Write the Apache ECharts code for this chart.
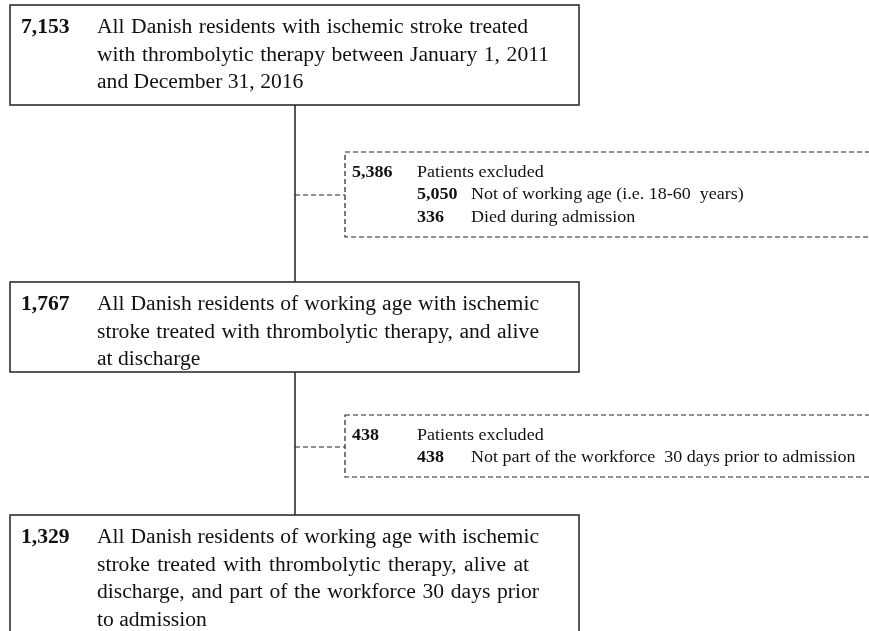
<!DOCTYPE html>
<html>
<head>
<meta charset="utf-8">
<script src="https://cdn.jsdelivr.net/npm/echarts@6/dist/echarts.min.js"></script>
<style>html,body{margin:0;padding:0;background:#fff;}#c{width:869px;height:631px;}</style>
</head>
<body>
<div id="c"></div>
<script>
// Data
const mainCounts = ['7,153', '1,767', '1,329'];
const mainTexts = [
  ['All Danish residents with ischemic stroke treated', 'with thrombolytic therapy between January 1, 2011', 'and December 31, 2016'],
  ['All Danish residents of working age with ischemic', 'stroke treated with thrombolytic therapy, and alive', 'at discharge'],
  ['All Danish residents of working age with ischemic', 'stroke treated with thrombolytic therapy, alive at', 'discharge, and part of the workforce 30 days prior', 'to admission']
];
const excludedTotals = ['5,386', '438'];
const excludedHeader = 'Patients excluded';
const excludedCounts = [['5,050', '336'], ['438']];
const excludedReasons = [['Not of working age (i.e. 18-60  years)', 'Died during admission'], ['Not part of the workforce  30 days prior to admission']];

// Layout
const boxL = 10, boxR = 579, stemX = 295;
const boxes = [{top: 5, bottom: 105}, {top: 282, bottom: 372}, {top: 515, bottom: 660}];
const lineEnds = [[528, 549, null], [539, 539, null], [539, 529, 539, null]];
const dboxes = [{top: 152, bottom: 237, mid: 195}, {top: 415, bottom: 477, mid: 447}];
const dL = 345, dR = 900;
const serif = '"Liberation Serif", "Times New Roman", serif';
const mainLine = 27.5, mainFS = 20, mainSX = 1.08;
const exLine = 22.5, exFS = 17.5, exSX = 1.03;
const textX = 97, numX = 21;

const ctx = document.createElement('canvas').getContext('2d');
function measure(t, font) { ctx.font = font; return ctx.measureText(t).width; }

const els = [];
const stroke = '#222';
const ink = '#111';
function txt(x, y, t, font, sx) {
  els.push({type: 'text', x: x, y: y, scaleX: sx, style: {text: t, font: font, fill: ink, verticalAlign: 'middle'}});
}
// main boxes
boxes.forEach((b, i) => {
  els.push({type: 'rect', shape: {x: boxL, y: b.top, width: boxR - boxL, height: b.bottom - b.top},
    style: {fill: '#fff', stroke: stroke, lineWidth: 1.5}});
  const y0 = b.top + 23;
  txt(numX, y0, mainCounts[i], 'bold ' + mainFS + 'px ' + serif, mainSX);
  const font = mainFS + 'px ' + serif;
  mainTexts[i].forEach((t, j) => {
    const y = y0 + j * mainLine;
    const end = lineEnds[i][j];
    if (end == null) { txt(textX, y, t, font, mainSX); return; }
    const words = t.split(' ');
    const widths = words.map(w => measure(w, font) * mainSX);
    const total = widths.reduce((a, b) => a + b, 0);
    const gap = (end - textX - total) / (words.length - 1);
    let x = textX;
    words.forEach((w, k) => { txt(x, y, w, font, mainSX); x += widths[k] + gap; });
  });
});
// stems
for (let i = 0; i < boxes.length - 1; i++) {
  els.push({type: 'line', shape: {x1: stemX, y1: boxes[i].bottom, x2: stemX, y2: boxes[i + 1].top}, style: {stroke: stroke, lineWidth: 1.5}});
}
// dashed boxes
dboxes.forEach((d, i) => {
  els.push({type: 'rect', shape: {x: dL, y: d.top, width: dR - dL, height: d.bottom - d.top},
    style: {fill: 'none', stroke: stroke, lineWidth: 1.2, lineDash: [5, 3]}});
  els.push({type: 'line', shape: {x1: stemX, y1: d.mid, x2: dL, y2: d.mid}, style: {stroke: stroke, lineWidth: 1.2, lineDash: [5, 3]}});
  const y0 = d.top + 20;
  const bf = 'bold ' + exFS + 'px ' + serif, nf = exFS + 'px ' + serif;
  txt(352, y0, excludedTotals[i], bf, exSX);
  txt(417, y0, excludedHeader, nf, exSX);
  excludedCounts[i].forEach((c, j) => {
    const y = y0 + (j + 1) * exLine;
    txt(417, y, c, bf, exSX);
    txt(471, y, excludedReasons[i][j], nf, exSX);
  });
});

const chart = echarts.init(document.getElementById('c'), null, {renderer: 'canvas'});
chart.setOption({
  backgroundColor: '#fff',
  animation: false,
  graphic: {elements: els}
});
</script>
</body>
</html>
